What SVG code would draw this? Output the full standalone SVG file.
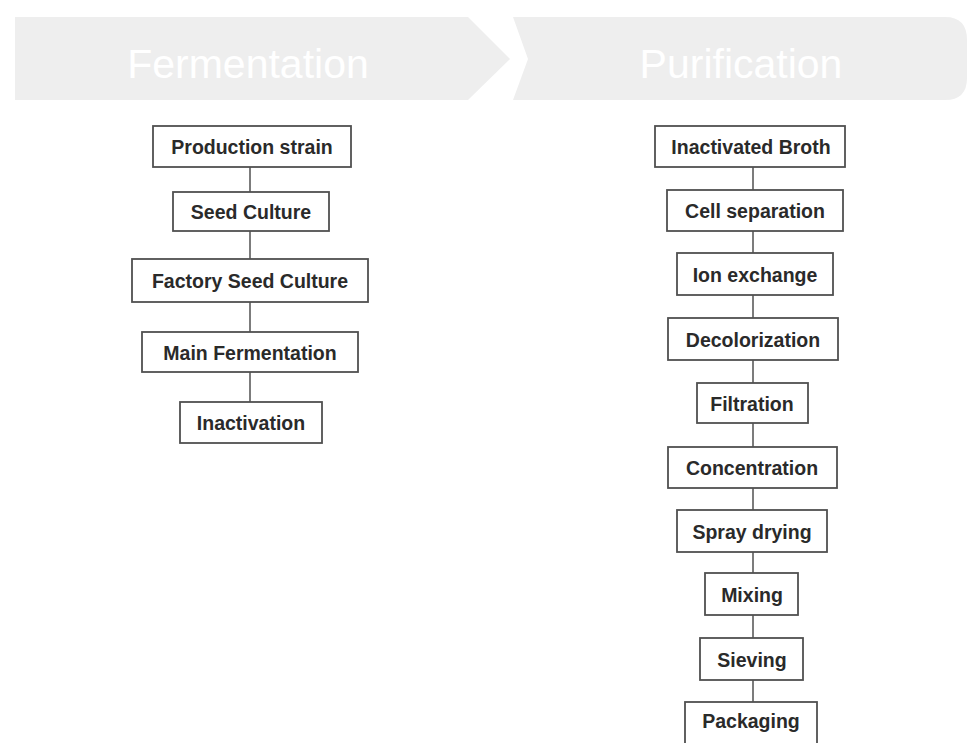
<svg xmlns="http://www.w3.org/2000/svg" width="969" height="743" viewBox="0 0 969 743">
<style>
.box{fill:#fff;stroke:#505050;stroke-width:1.8}
.lbl{font-family:"Liberation Sans",Arial,sans-serif;font-weight:bold;font-size:19.5px;fill:#2a2a2a;text-anchor:middle}
.hdr{font-family:"Liberation Sans",Arial,sans-serif;font-size:41px;fill:#ffffff;text-anchor:middle}
.ban{fill:#eeeeee}
.conn line{stroke:#505050;stroke-width:1.5}
</style>
<rect width="969" height="743" fill="#ffffff"/>
<g id="header-fermentation">
<path class="ban" d="M15,17 H468 L510,59 L468,100 H15 Z"/>
<text class="hdr" x="248" y="78">Fermentation</text>
</g>
<g id="header-purification">
<path class="ban" d="M513,17 H945 Q967,17 967,40 V78 Q967,100 945,100 H513 L528,59 Z"/>
<text class="hdr" x="741" y="78">Purification</text>
</g>
<g class="conn" id="connectors">
<line x1="250" y1="167" x2="250" y2="192"/>
<line x1="250" y1="231" x2="250" y2="259"/>
<line x1="250" y1="302" x2="250" y2="332"/>
<line x1="250" y1="372" x2="250" y2="402"/>
<line x1="753" y1="167" x2="753" y2="190"/>
<line x1="753" y1="231" x2="753" y2="253"/>
<line x1="753" y1="295" x2="753" y2="318"/>
<line x1="753" y1="360" x2="753" y2="383"/>
<line x1="753" y1="423" x2="753" y2="447"/>
<line x1="753" y1="488" x2="753" y2="510"/>
<line x1="753" y1="552" x2="753" y2="573"/>
<line x1="753" y1="615" x2="753" y2="638"/>
<line x1="753" y1="680" x2="753" y2="702"/>
</g>
<g id="n-production-strain"><rect class="box" x="153" y="126" width="198" height="41"/><text class="lbl" x="252" y="154">Production strain</text></g>
<g id="n-seed-culture"><rect class="box" x="173" y="192" width="156" height="39"/><text class="lbl" x="251" y="219">Seed Culture</text></g>
<g id="n-factory-seed-culture"><rect class="box" x="132" y="259" width="236" height="43"/><text class="lbl" x="250" y="288">Factory Seed Culture</text></g>
<g id="n-main-fermentation"><rect class="box" x="142" y="332" width="216" height="40"/><text class="lbl" x="250" y="359.5">Main Fermentation</text></g>
<g id="n-inactivation"><rect class="box" x="180" y="402" width="142" height="41"/><text class="lbl" x="251" y="430">Inactivation</text></g>
<g id="n-inactivated-broth"><rect class="box" x="655" y="126" width="190" height="41"/><text class="lbl" x="751" y="154">Inactivated Broth</text></g>
<g id="n-cell-separation"><rect class="box" x="667" y="190" width="176" height="41"/><text class="lbl" x="755" y="218">Cell separation</text></g>
<g id="n-ion-exchange"><rect class="box" x="677" y="253" width="156" height="42"/><text class="lbl" x="755" y="281.5">Ion exchange</text></g>
<g id="n-decolorization"><rect class="box" x="668" y="318" width="170" height="42"/><text class="lbl" x="753" y="346.5">Decolorization</text></g>
<g id="n-filtration"><rect class="box" x="697" y="383" width="111" height="40"/><text class="lbl" x="752" y="410.5">Filtration</text></g>
<g id="n-concentration"><rect class="box" x="668" y="447" width="169" height="41"/><text class="lbl" x="752" y="475">Concentration</text></g>
<g id="n-spray-drying"><rect class="box" x="677" y="510" width="150" height="42"/><text class="lbl" x="752" y="538.5">Spray drying</text></g>
<g id="n-mixing"><rect class="box" x="705" y="573" width="93" height="42"/><text class="lbl" x="752" y="601.5">Mixing</text></g>
<g id="n-sieving"><rect class="box" x="700" y="638" width="103" height="42"/><text class="lbl" x="752" y="666.5">Sieving</text></g>
<g id="n-packaging"><rect class="box" x="685" y="702" width="132" height="45"/><text class="lbl" x="751" y="728">Packaging</text></g>
</svg>
